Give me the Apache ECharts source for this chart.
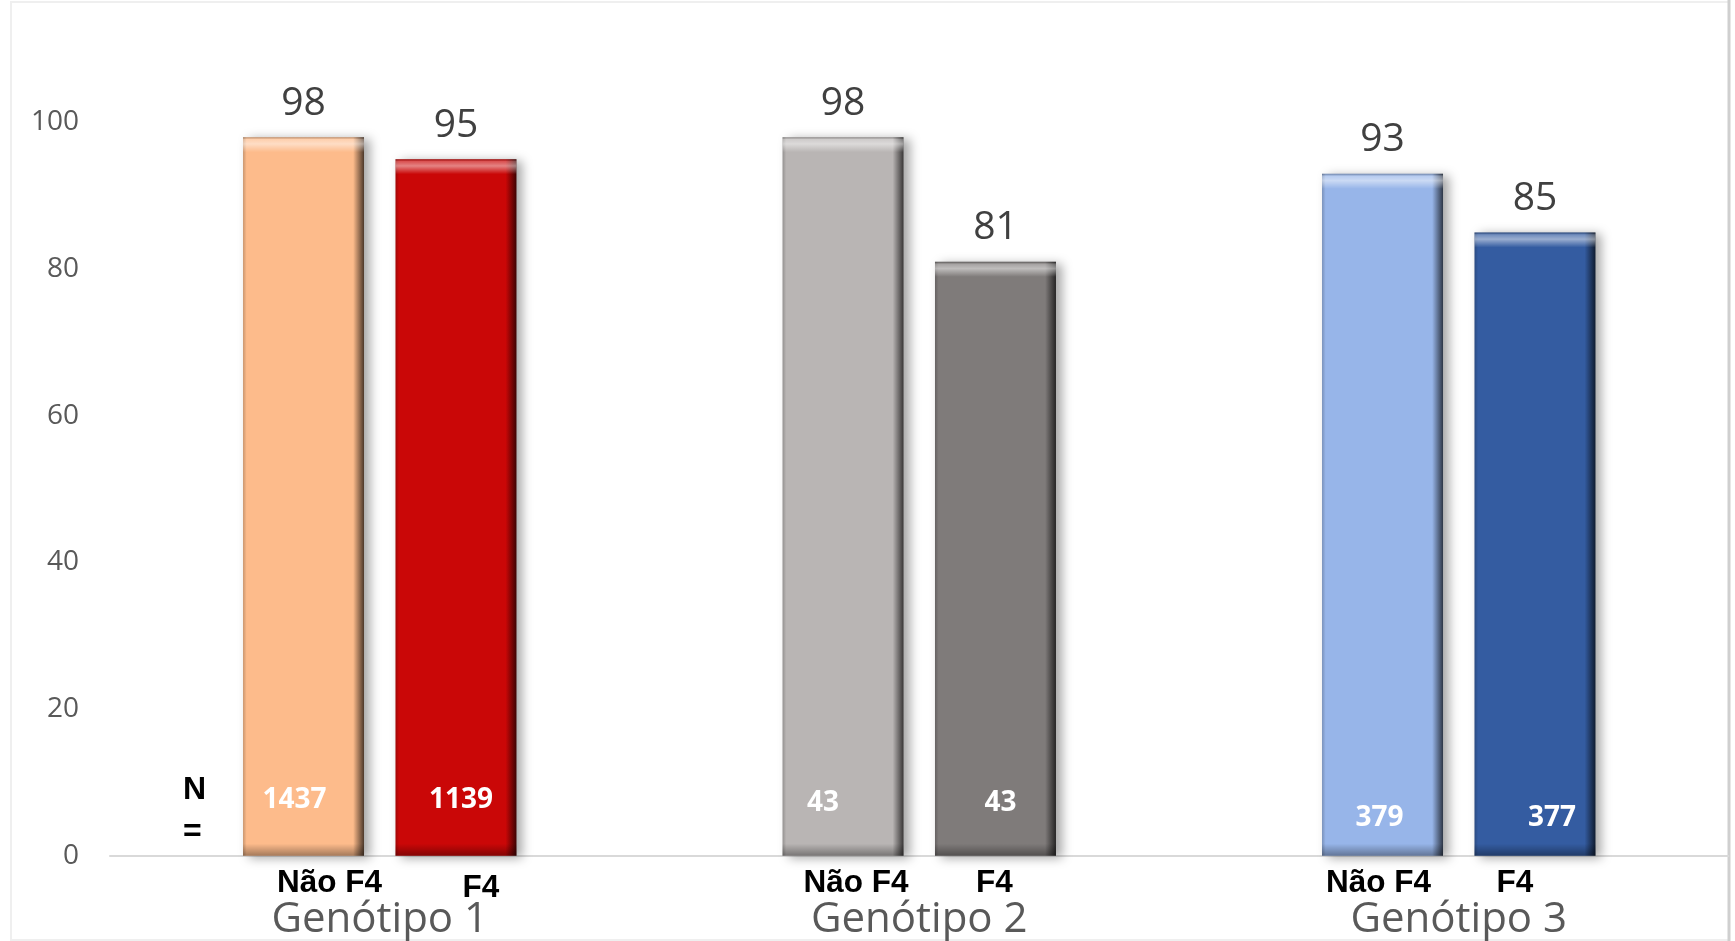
<!DOCTYPE html>
<html>
<head>
<meta charset="utf-8">
<title>Genótipo F4</title>
<script src="https://cdn.jsdelivr.net/npm/echarts@6/dist/echarts.min.js"></script>
<style>
  html, body { margin: 0; padding: 0; background: #fff; }
  #main { width: 1735px; height: 941px; }
</style>
</head>
<body>
<div id="main"></div>
<script>
// dados
const genotipos = ['Genótipo 1', 'Genótipo 2', 'Genótipo 3'];
const naoF4 = [98, 98, 93];
const f4 = [95, 81, 85];
const nNaoF4 = [1437, 43, 379];
const nF4 = [1139, 43, 377];
const subLabels = ['Não F4', 'F4'];

// cores das barras (por genótipo)
const coresNaoF4 = ['#FDBB8B', '#B9B5B4', '#97B5E9'];
const coresF4 = ['#CA0707', '#7F7B7A', '#345CA1'];

// deslocamentos dos textos (no original eram caixas de texto soltas)
const offNNao = [[-9, -42], [-20, -39], [-3, -24]];
const offNF4 = [[5, -42], [5, -39], [17, -24]];
const offSubNao = [[26, 0], [13, 0], [-4, 0]];
const offSubF4 = [[25, 5], [-1, 0], [-20, 0]];

const PX_POR_UNIDADE = 7.33;

function escurecer(hex, k) {
  const n = parseInt(hex.slice(1), 16);
  const r = Math.round(((n >> 16) & 255) * k);
  const g = Math.round(((n >> 8) & 255) * k);
  const b = Math.round((n & 255) * k);
  return 'rgb(' + r + ',' + g + ',' + b + ')';
}

// gradiente lateral (borda direita escura)
function lateral(c) {
  return new echarts.graphic.LinearGradient(0, 0, 1, 0, [
    { offset: 0, color: escurecer(c, 0.8) },
    { offset: 0.03, color: c },
    { offset: 0.91, color: c },
    { offset: 1, color: escurecer(c, 0.3) }
  ]);
}

// bisel em cima e em baixo
function bisel(v) {
  const h = v * PX_POR_UNIDADE;
  const t = 15 / h, b = 12 / h;
  return new echarts.graphic.LinearGradient(0, 0, 0, 1, [
    { offset: 0, color: 'rgba(0,0,0,0.25)' },
    { offset: 0.15 * t, color: 'rgba(255,255,255,0.3)' },
    { offset: 0.45 * t, color: 'rgba(255,255,255,0.5)' },
    { offset: t, color: 'rgba(255,255,255,0)' },
    { offset: 1 - b, color: 'rgba(0,0,0,0)' },
    { offset: 1, color: 'rgba(0,0,0,0.35)' }
  ]);
}

function barras(valores, cores) {
  return valores.map((v, i) => ({
    value: v,
    itemStyle: {
      color: lateral(cores[i]),
      shadowColor: 'rgba(0,0,0,0.35)',
      shadowBlur: 10,
      shadowOffsetX: 6,
      shadowOffsetY: 2
    }
  }));
}

function contagens(valores, ns, offs) {
  return valores.map((v, i) => ({
    value: v,
    itemStyle: { color: bisel(v) },
    label: { formatter: String(ns[i]), offset: offs[i] }
  }));
}

function rotulos(valores, offs) {
  return valores.map((v, i) => ({
    value: v,
    label: { offset: offs[i] }
  }));
}

const chartDom = document.getElementById('main');
const myChart = echarts.init(chartDom);

const BAR_W = 121;
const BAR_GAP = '26%';

const option = {
  animation: false,
  backgroundColor: '#fff',
  title: {
    text: 'N\n=',
    left: 183,
    top: 769,
    padding: 0,
    textStyle: {
      fontFamily: 'Liberation Sans',
      fontWeight: 'bold',
      fontSize: 32,
      lineHeight: 42,
      color: '#000'
    }
  },
  graphic: [
    // moldura clara do gráfico
    { type: 'rect', shape: { x: 11, y: 2, width: 1718, height: 938 },
      style: { fill: 'none', stroke: '#efefef', lineWidth: 2 }, silent: true },
    { type: 'line', shape: { x1: 1729, y1: 0, x2: 1729, y2: 941 },
      style: { stroke: '#cfcfcf', lineWidth: 3 }, silent: true }
  ],
  grid: {
    left: 110,
    right: 6.5,
    top: 122.5,
    bottom: 85.3,
    containLabel: false
  },
  xAxis: [
    {
      type: 'category',
      data: genotipos,
      axisLine: { lineStyle: { color: '#d9d9d9', width: 2 } },
      axisTick: { show: false },
      axisLabel: {
        margin: 43,
        fontFamily: 'Open Sans',
        fontSize: 42,
        color: '#595959'
      }
    },
    { type: 'category', data: genotipos, show: false },
    { type: 'category', data: genotipos, show: false }
  ],
  yAxis: {
    type: 'value',
    min: 0,
    max: 100,
    interval: 20,
    splitLine: { show: false },
    axisLine: { show: false },
    axisTick: { show: false },
    axisLabel: {
      margin: 31,
      fontFamily: 'Open Sans',
      fontSize: 28,
      color: '#595959'
    }
  },
  series: [
    {
      name: subLabels[0],
      type: 'bar',
      xAxisIndex: 0,
      barWidth: BAR_W,
      barGap: BAR_GAP,
      data: barras(naoF4, coresNaoF4),
      label: {
        show: true,
        position: 'top',
        distance: 14,
        fontFamily: 'Open Sans',
        fontSize: 39,
        color: '#404040'
      }
    },
    {
      name: subLabels[1],
      type: 'bar',
      xAxisIndex: 0,
      barWidth: BAR_W,
      barGap: BAR_GAP,
      data: barras(f4, coresF4),
      label: {
        show: true,
        position: 'top',
        distance: 14,
        fontFamily: 'Open Sans',
        fontSize: 39,
        color: '#404040'
      }
    },
    {
      name: 'N ' + subLabels[0],
      type: 'bar',
      xAxisIndex: 1,
      z: 3,
      silent: true,
      barWidth: BAR_W,
      barGap: BAR_GAP,
      data: contagens(naoF4, nNaoF4, offNNao),
      label: {
        show: true,
        position: 'insideBottom',
        distance: 0,
        fontFamily: 'Open Sans',
        fontWeight: 'bold',
        fontSize: 28,
        color: '#fff'
      }
    },
    {
      name: 'N ' + subLabels[1],
      type: 'bar',
      xAxisIndex: 1,
      z: 3,
      silent: true,
      barWidth: BAR_W,
      barGap: BAR_GAP,
      data: contagens(f4, nF4, offNF4),
      label: {
        show: true,
        position: 'insideBottom',
        distance: 0,
        fontFamily: 'Open Sans',
        fontWeight: 'bold',
        fontSize: 28,
        color: '#fff'
      }
    },
    {
      name: 'rótulo ' + subLabels[0],
      type: 'bar',
      xAxisIndex: 2,
      z: 1,
      silent: true,
      barWidth: BAR_W,
      barGap: BAR_GAP,
      itemStyle: { color: 'rgba(0,0,0,0)' },
      data: rotulos(naoF4, offSubNao),
      label: {
        show: true,
        position: 'bottom',
        distance: 12,
        formatter: subLabels[0],
        fontFamily: 'Liberation Sans',
        fontWeight: 'bold',
        fontSize: 31.5,
        color: '#000'
      }
    },
    {
      name: 'rótulo ' + subLabels[1],
      type: 'bar',
      xAxisIndex: 2,
      z: 1,
      silent: true,
      barWidth: BAR_W,
      barGap: BAR_GAP,
      itemStyle: { color: 'rgba(0,0,0,0)' },
      data: rotulos(f4, offSubF4),
      label: {
        show: true,
        position: 'bottom',
        distance: 12,
        formatter: subLabels[1],
        fontFamily: 'Liberation Sans',
        fontWeight: 'bold',
        fontSize: 31.5,
        color: '#000'
      }
    }
  ]
};

option && myChart.setOption(option);
</script>
</body>
</html>
